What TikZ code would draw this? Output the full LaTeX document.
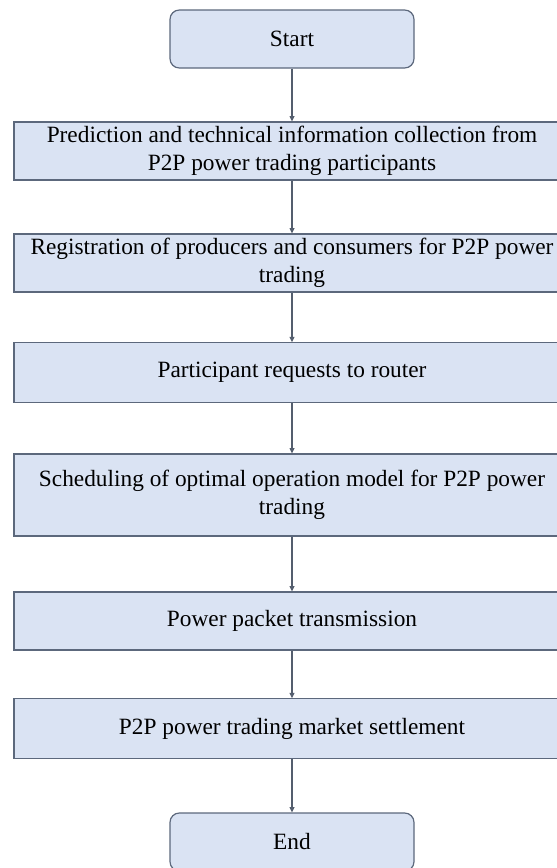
\documentclass[tikz,border=0pt]{standalone}
\usepackage{fontspec}
\setmainfont{Liberation Serif}
\usepackage{tikz}
\usetikzlibrary{arrows.meta}

\definecolor{boxfill}{RGB}{218,227,243}
\definecolor{boxline}{RGB}{92,104,124}
\definecolor{flowline}{RGB}{84,94,110}

\tikzset{
    terminal/.style={draw=boxline, fill=boxfill, line width=0.9pt, rounded corners=7pt,
        minimum width=183pt, minimum height=43.5pt, inner sep=0pt, align=center},
    process/.style={draw=boxline, fill=boxfill, line width=0.9pt,
        minimum width=417pt, minimum height=43.5pt, inner sep=0pt, align=center},
    flow/.style={draw=flowline, line width=0.9pt, -{Triangle[length=4pt, width=3.6pt]}},
}

\begin{document}
\begin{tikzpicture}[x=0.75pt, y=-0.75pt, font=\fontsize{17.5}{21}\selectfont]
    %% Background
    \useasboundingbox (0,0) rectangle (557,868);
    \clip (0,0) rectangle (557,868);

    %% Boxes
    \node[terminal] (start) at (292,39) {Start};
    \node[process] (predict) at (292,151)
        {Prediction and technical information collection from\\P2P power trading participants};
    \node[process] (regist) at (292,263)
        {Registration of producers and consumers for P2P power\\trading};
    \node[process, minimum height=44.5pt] (request) at (292,372.5) {Participant requests to router};
    \node[process, minimum height=61.5pt] (schedule) at (292,495)
        {Scheduling of optimal operation model for P2P power\\trading};
    \node[process] (transmit) at (292,621) {Power packet transmission};
    \node[process, minimum height=44.5pt] (settle) at (292,728.5) {P2P power trading market settlement};
    \node[terminal] (finish) at (292,842) {End};

    %% Arrows
    \draw[flow] (start) -- (predict);
    \draw[flow] (predict) -- (regist);
    \draw[flow] (regist) -- (request);
    \draw[flow] (request) -- (schedule);
    \draw[flow] (schedule) -- (transmit);
    \draw[flow] (transmit) -- (settle);
    \draw[flow] (settle) -- (finish);

\end{tikzpicture}
\end{document}
